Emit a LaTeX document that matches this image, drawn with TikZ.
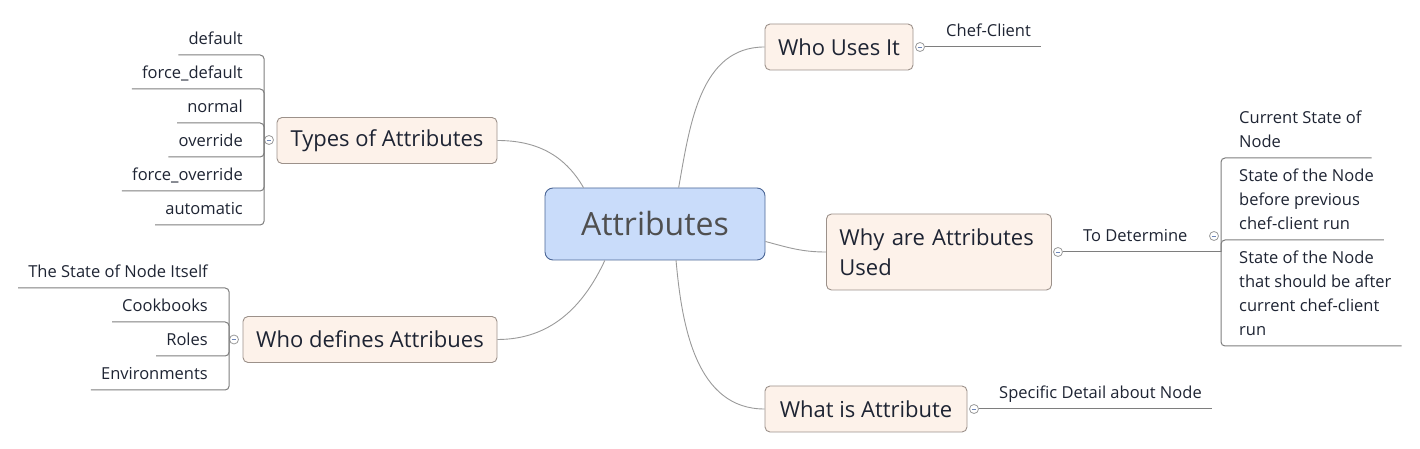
\documentclass[tikz,border=0pt]{standalone}
\usepackage{fontspec}
\setmainfont{Open Sans}
\usetikzlibrary{positioning, calc}
\definecolor{rootfill}{HTML}{C9DCFA}
\definecolor{rootline}{HTML}{4A6595}
\definecolor{rootink}{HTML}{4F4F4F}
\definecolor{topicfill}{HTML}{FDF2EA}
\definecolor{topicline}{HTML}{9C918A}
\definecolor{ink}{HTML}{1E2433}
\definecolor{wire}{HTML}{9A9A9A}
\definecolor{railgray}{HTML}{7E7E7E}
\definecolor{minus}{HTML}{6E86B8}

\tikzset{
  root/.style={draw=rootline, fill=rootfill, rounded corners=8pt, line width=0.9pt,
               minimum width=220pt, minimum height=72pt,
               font=\fontsize{32}{36}\selectfont, text=rootink},
  topic/.style={draw=topicline, fill=topicfill, rounded corners=5pt, line width=0.9pt,
                minimum height=46pt, font=\fontsize{22}{30}\selectfont, text=ink},
  leaf/.style={font=\fontsize{16.5}{24}\selectfont, text=ink, inner xsep=10pt,
               inner ysep=6pt, text depth=4pt},
  wire/.style={draw=wire, line width=0.9pt},
  rail/.style={draw=railgray, line width=1pt, rounded corners=4pt},
  fold/.style={circle, draw=wire, fill=white, minimum size=9pt, inner sep=0pt, line width=0.8pt,
               path picture={\draw[minus, line width=0.8pt]
                 ([xshift=-2.3pt]path picture bounding box.center) --
                 ([xshift=2.3pt]path picture bounding box.center);}},
}

\begin{document}
\begin{tikzpicture}[x=1pt, y=1pt]
  \useasboundingbox (0,0) rectangle (1420,449);
  % centre and main topics
  \node[root] (root) at (655,225) {Attributes};
  \node[topic, minimum width=220pt] (types) at (387,308.5) {Types of Attributes};
  \node[topic, minimum width=254pt] (whodef) at (370,109.5) {Who defines Attribues};
  \node[topic, minimum width=148pt] (whouses) at (839,402) {Who Uses It};
  \node[topic, minimum width=202pt] (whatis) at (866,40) {What is Attribute};
  \node[topic, anchor=west, minimum height=76pt, text width=199pt, inner xsep=13pt,
        align=left] (why) at (826,197) {Why are Attributes\\Used};

  % curved links to the centre
  \draw[wire] (types.east) to[out=0, in=120] (root.153);
  \draw[wire] (whodef.east) to[out=0, in=-115] (root.216);
  \draw[wire] (whouses.west) to[out=180, in=80] (root.57);
  \draw[wire] (why.west) to[out=180, in=-15] (root.-9);
  \draw[wire] (whatis.west) to[out=180, in=-85] (root.-60);

  % types of attributes
  \node[fold] (tydot) at (269,309) {};
  \foreach \lab/\yy [count=\i] in {default/394, force\_default/360, normal/326,
                                   override/292, force\_override/258, automatic/224}{
    \node[leaf, anchor=south east] (ty\i) at (253,\yy) {\lab};
    \draw[rail] (tydot.west) |- (ty\i.south west);
  }

  % who defines
  \node[fold] (wddot) at (234,109.5) {};
  \foreach \lab/\yy [count=\i] in {The State of Node Itself/161, Cookbooks/127,
                                   Roles/93, Environments/59}{
    \node[leaf, anchor=south east] (wd\i) at (218,\yy) {\lab};
    \draw[rail] (wddot.west) |- (wd\i.south west);
  }

  % who uses it
  \node[fold] (usesdot) at (920,402) {};
  \node[leaf, anchor=south west] (chef) at (936,402) {Chef-Client};
  \draw[rail] (usesdot.east) -- (chef.south east);

  % what is attribute
  \node[fold] (whatdot) at (974,40) {};
  \node[leaf, anchor=south west] (spec) at (989,40) {Specific Detail about Node};
  \draw[rail] (whatdot.east) -- (spec.south east);

  % why are attributes used
  \node[fold] (whydot) at (1058,197) {};
  \node[leaf, anchor=south west] (todet) at (1073,197) {To Determine};
  \coordinate (tdbar) at (1221,197);
  \draw[rail] (whydot.east) -- (tdbar);
  \node[fold] (tddot) at (1214,213) {};
  \foreach \lab/\yy [count=\i] in {{Current State of\\Node}/291,
                                   {State of the Node\\before previous\\chef-client run}/209,
                                   {State of the Node\\that should be after\\current chef-client\\run}/103}{
    \node[leaf, anchor=south west, align=left] (td\i) at (1229,\yy) {\lab};
    \draw[rail] (tdbar) |- (td\i.south east);
  }
\end{tikzpicture}
\end{document}
